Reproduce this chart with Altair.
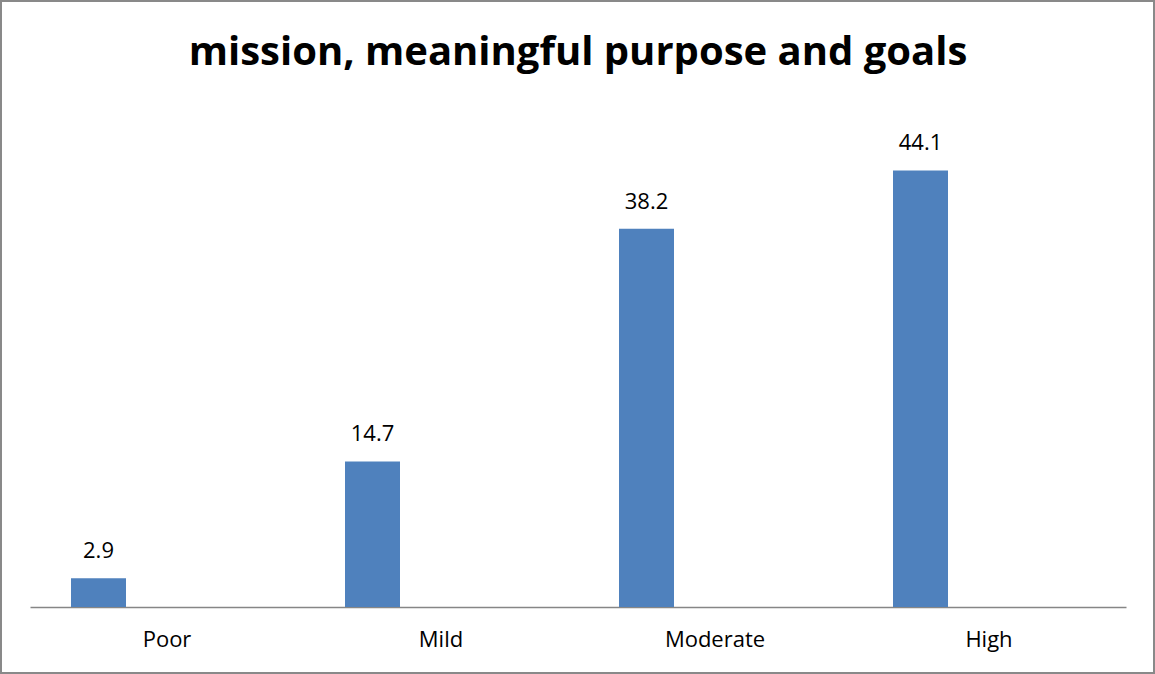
import altair as alt
import pandas as pd

categories = ["Poor", "Mild", "Moderate", "High"]
values = [2.9, 14.7, 38.2, 44.1]
title_text = "mission, meaningful purpose and goals"

df = pd.DataFrame({"category": categories, "value": values})

W, H = 1096, 495
FONT = "Open Sans"

x_enc = alt.X("category:N", sort=categories, title=None,
              scale=alt.Scale(paddingInner=0, paddingOuter=0),
              axis=alt.Axis(labelAngle=0, ticks=False, domainColor="#868686",
                            domainWidth=1.5, labelFont=FONT, labelFontSize=22,
                            labelColor="#000000", labelPadding=22, grid=False))
y_enc = alt.Y("value:Q", scale=alt.Scale(domain=[0, 50]), axis=None)

bars = alt.Chart(df).mark_bar(size=55, xOffset=-68.5, color="#4F81BD").encode(
    x=x_enc, y=y_enc)

labels = alt.Chart(df).mark_text(xOffset=-68.5, dy=-20, baseline="alphabetic",
                                 font=FONT, fontSize=22, color="#000000").encode(
    x=alt.X("category:N", sort=categories),
    y="value:Q",
    text=alt.Text("value:Q", format=".1f"))

title_df = pd.DataFrame({"t": [title_text]})
title = alt.Chart(title_df).mark_text(font=FONT, fontSize=40, fontWeight="bold",
                                      color="#000000", align="center",
                                      baseline="alphabetic").encode(
    x=alt.value(W / 2), y=alt.value(-47), text="t:N")

frame_df = pd.DataFrame({"k": [0]})
frame = alt.Chart(frame_df).mark_rect(fill=None, stroke="#898989", strokeWidth=2).encode(
    x=alt.value(-29), x2=alt.value(W + 28), y=alt.value(-111), y2=alt.value(H + 66))

chart = alt.layer(bars, labels, title, frame).properties(
    width=W, height=H,
    padding={"left": 30, "top": 112, "right": 29, "bottom": 67},
    autosize=alt.AutoSizeParams(type="none"),
    background="#FFFFFF",
).configure_view(stroke=None)

chart.save("out.html", embed_options={"renderer": "svg", "actions": False})
